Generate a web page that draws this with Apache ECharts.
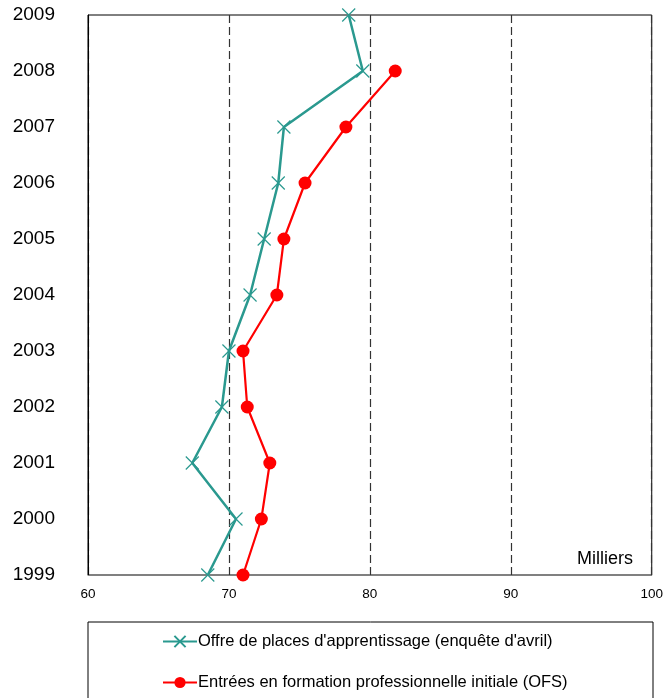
<!DOCTYPE html>
<html>
<head>
<meta charset="utf-8">
<script src="https://cdn.jsdelivr.net/npm/echarts@6/dist/echarts.min.js"></script>
<style>
  html, body { margin: 0; padding: 0; background: #fff; }
  #chart { width: 666px; height: 698px; }
</style>
</head>
<body>
<div id="chart"></div>
<script>
// annees, de bas en haut
const years = ['1999', '2000', '2001', '2002', '2003', '2004', '2005', '2006', '2007', '2008', '2009']
// milliers
const offre = [68.5, 70.5, 67.4, 69.5, 70.0, 71.5, 72.5, 73.5, 73.9, 79.5, 78.5]
const entrees = [71.0, 72.3, 72.9, 71.3, 71.0, 73.4, 73.9, 75.4, 78.3, 81.8, '-']
const seriesNames = [
  "Offre de places d'apprentissage (enquête d'avril)",
  'Entrées en formation professionnelle initiale (OFS)'
]
const teal = '#2a998f'
const red = '#ff0000'

const chart = echarts.init(document.getElementById('chart'))
chart.setOption({
  animation: false,
  textStyle: { fontFamily: 'Liberation Sans, Arial, sans-serif' },
  grid: {
    left: 88,
    right: 13,
    top: 15,
    bottom: 123,
    show: true,
    borderColor: '#000',
    borderWidth: 1
  },
  xAxis: {
    type: 'value',
    min: 60,
    max: 100,
    interval: 10,
    axisLine: { show: true, lineStyle: { color: '#808080', width: 1 } },
    axisTick: { show: false },
    axisLabel: { color: '#000', fontSize: 13.5, margin: 12 },
    splitLine: {
      show: true,
      lineStyle: { color: '#333', type: [8, 4], width: 1.2 }
    }
  },
  yAxis: {
    type: 'category',
    data: years,
    boundaryGap: false,
    axisLine: { show: true, lineStyle: { color: '#000' } },
    axisTick: { show: false },
    axisLabel: { color: '#000', fontSize: 19, margin: 33 },
    splitLine: { show: false }
  },
  legend: {
    orient: 'vertical',
    left: 162,
    top: 633,
    padding: 0,
    itemWidth: 34,
    itemHeight: 14,
    itemGap: 24,
    textStyle: { fontSize: 16.5, color: '#000', padding: [0, 0, 0, -4] },
    data: seriesNames
  },
  graphic: [
    {
      type: 'rect',
      shape: { x: 88, y: 622, width: 565, height: 100 },
      style: { fill: 'none', stroke: '#000', lineWidth: 1 },
      z: -1
    },
    {
      type: 'text',
      right: 33,
      top: 550,
      style: { text: 'Milliers', fontSize: 18, fill: '#000', fontFamily: 'Liberation Sans, Arial, sans-serif' }
    }
  ],
  series: [
    {
      name: seriesNames[0],
      type: 'line',
      data: offre,
      symbol: 'path://M0,0L10,10M10,0L0,10',
      symbolSize: 13,
      showAllSymbol: true,
      lineStyle: { color: teal, width: 2.5 },
      itemStyle: { color: teal, borderColor: teal, borderWidth: 1.2 }
    },
    {
      name: seriesNames[1],
      type: 'line',
      data: entrees,
      symbol: 'circle',
      symbolSize: 13,
      showAllSymbol: true,
      lineStyle: { color: red, width: 2.2 },
      itemStyle: { color: red, borderWidth: 0 }
    }
  ]
})
</script>
</body>
</html>
